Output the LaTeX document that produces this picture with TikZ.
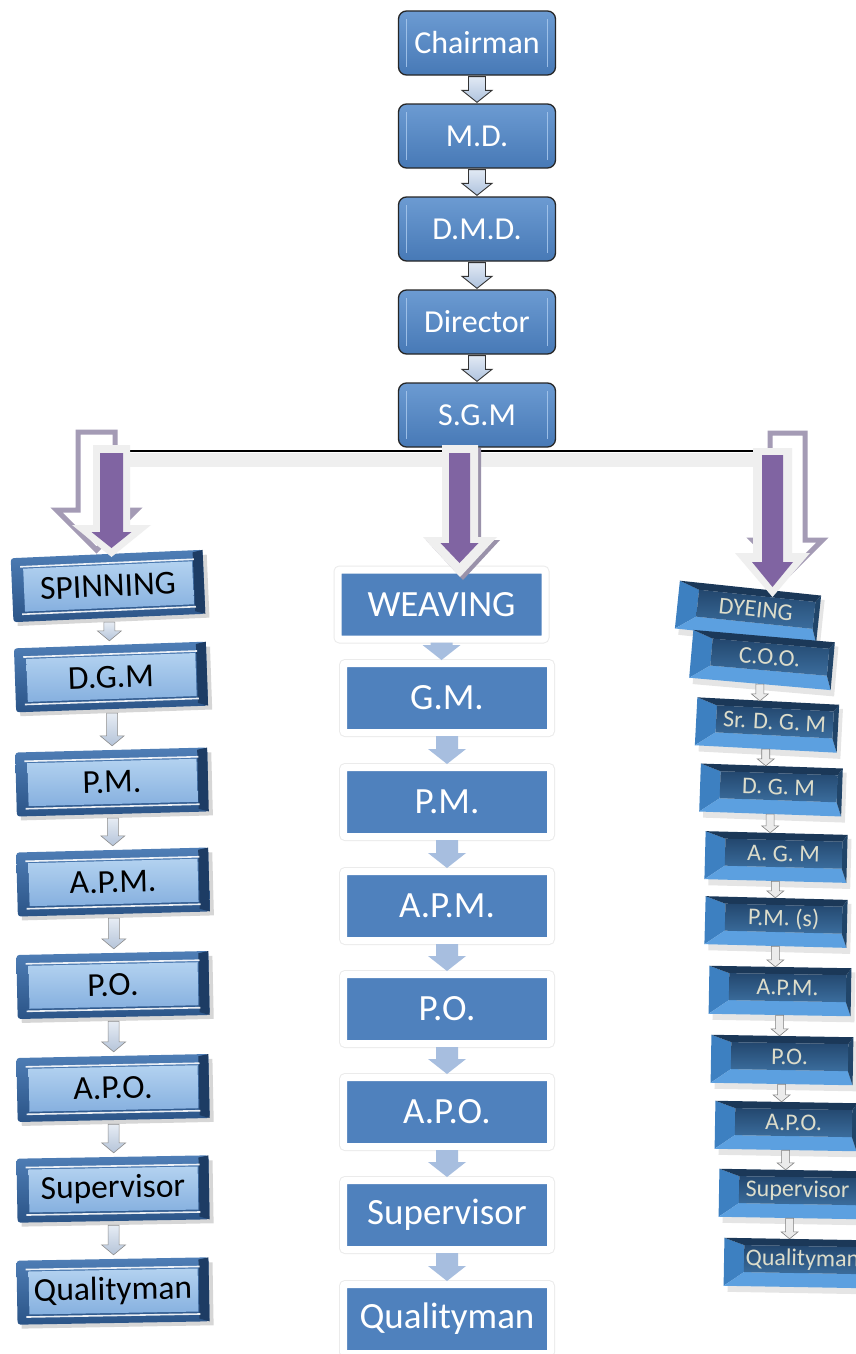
\documentclass[tikz,border=0pt]{standalone}
\usepackage{fontspec}
\setmainfont{Carlito}
\usetikzlibrary{calc}

\definecolor{topA}{HTML}{6C9BD2}
\definecolor{topB}{HTML}{4779B6}
\definecolor{topline}{HTML}{A9C9EE}
\definecolor{chainA}{HTML}{E1E9F4}
\definecolor{chainB}{HTML}{AFC3DE}
\definecolor{weave}{HTML}{4F81BD}
\definecolor{weavearrow}{HTML}{A7BEDF}
\definecolor{spinframeA}{HTML}{4F7EB6}
\definecolor{spinframeB}{HTML}{2B5487}
\definecolor{spinedge}{HTML}{1D3C64}
\definecolor{spinfaceA}{HTML}{B3D2F0}
\definecolor{spinfaceB}{HTML}{86B0DF}
\definecolor{spinarrowA}{HTML}{E6ECF4}
\definecolor{spinarrowB}{HTML}{B5C4D9}
\definecolor{dyetop}{HTML}{1B3858}
\definecolor{dyeright}{HTML}{214569}
\definecolor{dyeleft}{HTML}{3D80C1}
\definecolor{dyebottom}{HTML}{5CA0E0}
\definecolor{dyefaceA}{HTML}{23476E}
\definecolor{dyefaceB}{HTML}{3B6D9D}
\definecolor{dyetext}{HTML}{DCDCCA}
\definecolor{purplefill}{HTML}{8064A2}
\definecolor{glowfill}{HTML}{EFEFEF}
\definecolor{hatchline}{HTML}{A49BB5}
\definecolor{shadowline}{HTML}{9A92AA}

% block arrow between two named nodes: from, to, half shaft, half head, head length, gap, style
\newcommand\lnkarrow[7]{%
  \path[#7] let \p1=(#1.south), \p2=(#2.north) in
    (\x1-#3pt,\y1-#6pt) -- (\x1+#3pt,\y1-#6pt) -- (\x1+#3pt,\y2+#5pt+#6pt)
    -- (\x1+#4pt,\y2+#5pt+#6pt) -- (\x1,\y2+#6pt) -- (\x1-#4pt,\y2+#5pt+#6pt)
    -- (\x1-#3pt,\y2+#5pt+#6pt) -- cycle;}

% wide downward block arrow: centre x, top, tip, half shaft, half head, head length, style
\newcommand\bigblockarrow[7]{%
  \path[#7] (#1-#4,#2) -- (#1+#4,#2) -- (#1+#4,#3-#6) -- (#1+#5,#3-#6)
    -- (#1,#3) -- (#1-#5,#3-#6) -- (#1-#4,#3-#6) -- cycle;}

% bevelled light box of the spinning column: name, x, y, angle, text
\newcommand\spinningbox[5]{%
  \begin{scope}[shift={(#2,#3)}, rotate=#4]
    \fill[black, opacity=.16] (-92,-27) rectangle (100,36);
    \shade[rounded corners=3pt, top color=spinframeA, bottom color=spinframeB] (-96,-32) rectangle (96,32);
    \fill[spinedge] (86,-30) -- (96,-32) -- (96,32) -- (86,29) -- cycle;
    \shade[top color=spinfaceA, bottom color=spinfaceB] (-84,-21) rectangle (85,22);
    \draw[white, line width=1.6pt, opacity=.9] (-87,-23) -- (87,-23) (-87,24.5) -- (87,24.5);
    \node[spintext, transform shape] (#1) at (0,0) {#5};
  \end{scope}}

% raised dark box of the dyeing column: name, x, y, angle, text
\newcommand\dyeingbox[5]{%
  \begin{scope}[shift={(#2,#3)}, rotate=#4]
    \fill[black, opacity=.10] (-67,-20) rectangle (75,30);
    \fill[dyeleft] (-71,-24) -- (-51,-17) -- (-51,10) -- (-71,24) -- cycle;
    \fill[dyebottom] (-71,24) -- (71,24) -- (66,10) -- (-51,10) -- cycle;
    \fill[dyeright] (71,-24) -- (71,24) -- (66,10) -- (66,-17) -- cycle;
    \fill[dyetop] (-71,-24) -- (71,-24) -- (66,-17) -- (-51,-17) -- cycle;
    \shade[top color=dyefaceA, bottom color=dyefaceB] (-51,-17) rectangle (66,10);
    \node[dyeframe, transform shape] (#1) at (0,0) {};
    \node[dyelabel, transform shape] (#1-t) at (7.5,-3.5) {#5};
  \end{scope}}

\begin{document}
\begin{tikzpicture}[x=1pt, y=-1pt,
  topbox/.style={rounded corners=8pt, draw=black!85, line width=1.3pt,
    top color=topA, bottom color=topB, minimum width=157pt, minimum height=64pt,
    inner sep=0pt, text=white, font=\fontsize{32}{38}\selectfont,
    path picture={
      \draw[topline, line width=1.8pt, opacity=.85]
        ([xshift=8pt,yshift=-8pt]path picture bounding box.north west) --
        ([xshift=8pt,yshift=8pt]path picture bounding box.south west)
        ([xshift=-8pt,yshift=-8pt]path picture bounding box.north east) --
        ([xshift=-8pt,yshift=8pt]path picture bounding box.south east);}},
  chainarrow/.style={draw=black!80, line width=.9pt, top color=chainA, bottom color=chainB},
  weavebox/.style={fill=weave, draw=white, line width=7pt, rounded corners=2pt,
    minimum width=207pt, minimum height=69pt, inner sep=0pt, text=white,
    font=\fontsize{37}{44}\selectfont,
    preaction={draw=black!8, line width=9pt}},
  weavelink/.style={fill=weavearrow},
  spintext/.style={minimum width=192pt, minimum height=64pt, inner sep=0pt,
    text=black, font=\fontsize{33.5}{40}\selectfont},
  spinlink/.style={draw=black!45, line width=.6pt, top color=spinarrowA, bottom color=spinarrowB},
  dyeframe/.style={minimum width=142pt, minimum height=48pt, inner sep=0pt},
  dyelabel/.style={inner sep=0pt, text=dyetext, font=\fontsize{24}{28}\selectfont},
  dyelink/.style={fill=black!8, draw=black!50, line width=.6pt},
  purplearrow/.style={fill=purplefill},
  glowarrow/.style={fill=glowfill},
  hatcharrow/.style={draw=hatchline, line width=5pt, fill=white},
  shadowarrow/.style={fill=shadowline}
]
\useasboundingbox (0,0) rectangle (856,1354);
\clip (0,0) rectangle (856,1354);
\fill[white] (0,0) rectangle (856,1354);

% distribution bus under S.G.M
\fill[glowfill] (130,453) rectangle (753,467);
\draw[line width=1.3pt] (130,451) -- (753,451);

% management chain
\node[topbox] (chair) at (477,43) {Chairman};
\node[topbox] (md) at (477,136) {M.D.};
\node[topbox] (dmd) at (477,229) {D.M.D.};
\node[topbox] (dir) at (477,322) {Director};
\node[topbox] (sgm) at (477,415) {S.G.M};
\lnkarrow{chair}{md}{8.5}{15}{12}{1}{chainarrow}
\lnkarrow{md}{dmd}{8.5}{15}{12}{1}{chainarrow}
\lnkarrow{dmd}{dir}{8.5}{15}{12}{1}{chainarrow}
\lnkarrow{dir}{sgm}{8.5}{15}{12}{1}{chainarrow}

% spinning column
\spinningbox{s0}{108}{586}{2.5}{SPINNING}
\spinningbox{s1}{111}{677}{2}{D.G.M}
\spinningbox{s2}{112}{782}{1.5}{P.M.}
\spinningbox{s3}{113}{882}{1.5}{A.P.M.}
\spinningbox{s4}{113}{985}{1.2}{P.O.}
\spinningbox{s5}{113}{1088}{1.2}{A.P.O.}
\spinningbox{s6}{113}{1189}{1}{Supervisor}
\spinningbox{s7}{113}{1291}{1}{Qualityman}
\foreach \a/\b in {s0/s1, s1/s2, s2/s3, s3/s4, s4/s5, s5/s6, s6/s7}
  {\lnkarrow{\a}{\b}{5.5}{12}{10}{4}{spinlink}}

% weaving column
\node[weavebox] (w0) at (441.5,604.5) {WEAVING};
\node[weavebox] (w1) at (447,698) {G.M.};
\node[weavebox] (w2) at (447,802) {P.M.};
\node[weavebox] (w3) at (447,906) {A.P.M.};
\node[weavebox] (w4) at (447,1009) {P.O.};
\node[weavebox] (w5) at (447,1112) {A.P.O.};
\node[weavebox] (w6) at (447,1215) {Supervisor};
\node[weavebox] (w7) at (447,1319) {Qualityman};
\foreach \a/\b in {w0/w1, w1/w2, w2/w3, w3/w4, w4/w5, w5/w6, w6/w7}
  {\lnkarrow{\a}{\b}{11}{19}{15}{0}{weavelink}}

% dyeing column
\dyeingbox{d0}{748}{612}{-6}{DYEING}
\dyeingbox{d1}{762}{660}{-5}{C.O.O.}
\dyeingbox{d2}{767}{725}{-3}{Sr. D. G. M}
\dyeingbox{d3}{771}{790}{-2}{D. G. M}
\dyeingbox{d4}{776}{857}{-1.5}{A. G. M}
\dyeingbox{d5}{776}{922}{-1.5}{P.M. (s)}
\dyeingbox{d6}{780}{991}{-1}{A.P.M.}
\dyeingbox{d7}{782}{1060}{-1}{P.O.}
\dyeingbox{d8}{786}{1126}{-1}{A.P.O.}
\dyeingbox{d9}{790}{1194}{-1}{Supervisor}
\dyeingbox{d10}{795}{1263}{-1}{Qualityman}
\foreach \a/\b in {d1/d2, d2/d3, d3/d4, d4/d5, d5/d6, d6/d7, d7/d8, d8/d9, d9/d10}
  {\lnkarrow{\a}{\b}{4}{8.5}{7}{0}{dyelink}}

% branch arrows from the bus to the three departments
\bigblockarrow{96.5}{432}{550}{18.5}{40}{40}{hatcharrow}
\bigblockarrow{111.5}{445}{557}{18.5}{39.5}{32}{glowarrow}
\bigblockarrow{111.5}{453}{548}{11.5}{20}{16}{purplearrow}

\bigblockarrow{463}{448}{580}{18}{37}{40}{shadowarrow}
\bigblockarrow{460}{445}{577}{18}{37}{40}{glowarrow}
\bigblockarrow{459.5}{453}{563}{10.5}{19}{20}{purplearrow}

\bigblockarrow{787.5}{433}{575}{17.5}{35}{35}{hatcharrow}
\bigblockarrow{772.5}{448}{597}{19.5}{37.5}{44}{glowarrow}
\bigblockarrow{772.5}{455}{587}{10.5}{20.5}{25}{purplearrow}
\end{tikzpicture}
\end{document}
